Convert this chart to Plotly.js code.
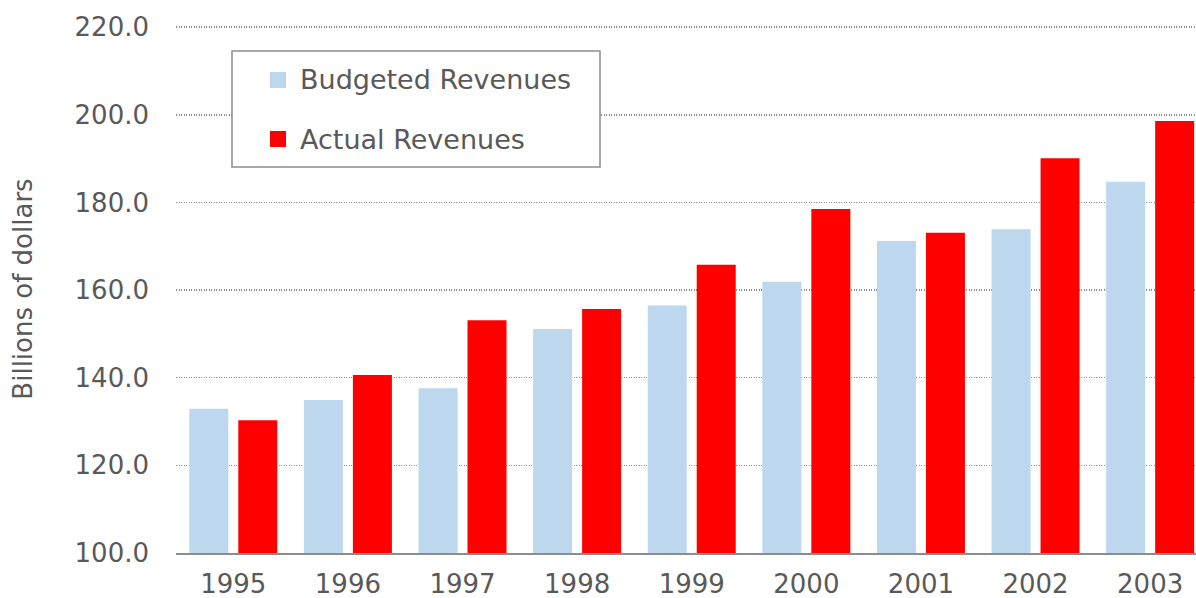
<!DOCTYPE html>
<html>
<head>
<meta charset="utf-8">
<script src="https://cdn.plot.ly/plotly-3.0.1.min.js"></script>
<style>html,body{margin:0;padding:0;background:#fff;}#chart{width:1196px;height:598px;}</style>
</head>
<body>
<div id="chart"></div>
<script>
const years = ["1995","1996","1997","1998","1999","2000","2001","2002","2003"];
const budgeted = [132.9, 134.9, 137.6, 151.1, 156.5, 161.9, 171.2, 173.9, 184.7];
const actual = [130.3, 140.6, 153.1, 155.7, 165.8, 178.5, 173.1, 190.1, 198.6];
const yTicks = [100, 120, 140, 160, 180, 200, 220];
const yTickText = yTicks.map(v => v.toFixed(1));
const seriesNames = ["Budgeted Revenues", "Actual Revenues"];
const seriesColors = ["#BDD7EE", "#FF0000"];

const FONT = "DejaVu Sans, sans-serif";
const GRAY = "#595959";

const W = 1196, H = 598;
const M = {l: 176, r: 0, t: 25, b: 45};
const plotW = W - M.l - M.r, plotH = H - M.t - M.b;
const px = x => (x - M.l) / plotW;
const py = y => (H - M.b - y) / plotH;

const traces = [
  {type: "bar", name: seriesNames[0], x: years, y: budgeted, marker: {color: seriesColors[0]}},
  {type: "bar", name: seriesNames[1], x: years, y: actual, marker: {color: seriesColors[1]}}
];

// legend drawn as shapes + annotations
const shapes = [
  {type: "rect", xref: "paper", yref: "paper", x0: px(232), x1: px(600), y0: py(51), y1: py(167),
   line: {color: "#8c8c8c", width: 1.5}, fillcolor: "#fff", layer: "above"}
];
const annotations = [];
const rowY = [80, 139];
seriesNames.forEach((n, i) => {
  shapes.push({type: "rect", xref: "paper", yref: "paper",
    x0: px(270), x1: px(286), y0: py(rowY[i] - 8), y1: py(rowY[i] + 8),
    line: {width: 0}, fillcolor: seriesColors[i], layer: "above"});
  annotations.push({xref: "paper", yref: "paper", x: px(298), y: py(rowY[i]),
    xanchor: "left", yanchor: "middle", showarrow: false, text: n,
    font: {family: FONT, size: 27, color: GRAY}});
});

const layout = {
  width: W, height: H,
  margin: {l: M.l, r: M.r, t: M.t, b: M.b, pad: 0},
  paper_bgcolor: "#fff", plot_bgcolor: "#fff",
  font: {family: FONT, color: GRAY, size: 26},
  barmode: "group", bargap: 0.145, bargroupgap: 0.204,
  showlegend: false,
  shapes: shapes, annotations: annotations,
  xaxis: {
    type: "category", range: [-0.5, 8.4],
    showgrid: false, zeroline: false,
    showline: true, linecolor: "#8c8c8c", linewidth: 2,
    ticks: "", ticklabelstandoff: 7,
    tickfont: {family: FONT, size: 26, color: GRAY}
  },
  yaxis: {
    range: [100, 220.5], tickvals: yTicks, ticktext: yTickText,
    showgrid: true, gridcolor: "#8f8f8f", gridwidth: 1.5, griddash: "1.2px,1.3px",
    zeroline: false, showline: false, ticks: "", ticklabelstandoff: 26,
    tickfont: {family: FONT, size: 26, color: GRAY},
    title: {text: "Billions of dollars", font: {family: FONT, size: 26, color: GRAY}, standoff: 34}
  }
};

Plotly.newPlot("chart", traces, layout, {displayModeBar: false, staticPlot: true});
</script>
</body>
</html>
